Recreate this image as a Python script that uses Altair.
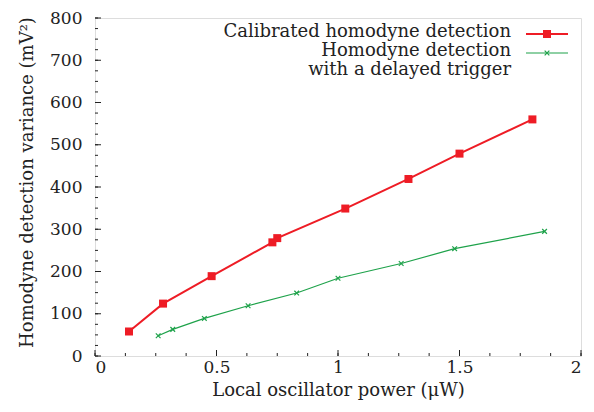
import altair as alt
import pandas as pd

# Calibrated homodyne detection
cal_x = [0.14, 0.28, 0.48, 0.73, 0.75, 1.03, 1.29, 1.50, 1.80]
cal_y = [58, 124, 189, 269, 279, 349, 419, 479, 560]
# Homodyne detection with a delayed trigger
del_x = [0.26, 0.32, 0.45, 0.63, 0.83, 1.00, 1.26, 1.48, 1.85]
del_y = [48, 63, 89, 119, 149, 184, 219, 254, 295]

x_major = [0, 0.5, 1, 1.5, 2]
x_minor = [i * 0.125 for i in range(17)]
y_major = [0, 100, 200, 300, 400, 500, 600, 700, 800]
y_minor = [i * 25 for i in range(33)]

RED = "#ee1c25"
GREEN = "#1ea24a"
FONT = "DejaVu Serif"
FS = 17
FT = 18
W, H = 486, 338
XMARK = "M-1,-1L1,1M-1,1L1,-1"

cal = pd.DataFrame({"x": cal_x, "y": cal_y})
dly = pd.DataFrame({"x": del_x, "y": del_y})

xs = alt.Scale(domain=[0, 2], nice=False)
ys = alt.Scale(domain=[0, 800], nice=False)

xaxis = alt.Axis(values=x_major, format="~g", grid=False, domain=False, ticks=False,
                 labelFont=FONT, labelFontSize=FS, labelColor="#222", labelPadding=3,
                 title="Local oscillator power (μW)", titleFont=FONT, titleFontSize=FT,
                 titleFontWeight="normal", titleColor="#222",
                 titleX=W / 2, titleY=34, titleBaseline="middle", titleAlign="center")
yaxis = alt.Axis(values=y_major, grid=False, domain=False, ticks=False,
                 labelFont=FONT, labelFontSize=FS, labelColor="#222", labelPadding=13,
                 title="Homodyne detection variance (mV²)", titleFont=FONT, titleFontSize=FT,
                 titleFontWeight="normal", titleColor="#222", titleAngle=270,
                 titleX=-68, titleY=164, titleBaseline="middle", titleAlign="center")

red_line = alt.Chart(cal).mark_line(color=RED, strokeWidth=2).encode(
    x=alt.X("x:Q", scale=xs, axis=xaxis), y=alt.Y("y:Q", scale=ys, axis=yaxis))
red_pts = alt.Chart(cal).mark_point(shape="square", filled=True, color=RED, size=64, opacity=1).encode(
    x=alt.X("x:Q", scale=xs), y=alt.Y("y:Q", scale=ys))
grn_line = alt.Chart(dly).mark_line(color=GREEN, strokeWidth=1.2).encode(
    x=alt.X("x:Q", scale=xs), y=alt.Y("y:Q", scale=ys))
grn_pts = alt.Chart(dly).mark_point(shape=XMARK, filled=False, color=GREEN, size=22,
                                    strokeWidth=1.2, opacity=1).encode(
    x=alt.X("x:Q", scale=xs), y=alt.Y("y:Q", scale=ys))

# inside ticks (gnuplot style)
xmaj = alt.Chart(pd.DataFrame({"x": x_major})).mark_rule(color="#222", strokeWidth=1).encode(
    x=alt.X("x:Q", scale=xs), y=alt.value(H), y2=alt.value(H - 6))
xmin = alt.Chart(pd.DataFrame({"x": x_minor})).mark_rule(color="#222", strokeWidth=1).encode(
    x=alt.X("x:Q", scale=xs), y=alt.value(H), y2=alt.value(H - 3))
ymaj = alt.Chart(pd.DataFrame({"y": y_major})).mark_rule(color="#222", strokeWidth=1).encode(
    y=alt.Y("y:Q", scale=ys), x=alt.value(0), x2=alt.value(6))
ymin = alt.Chart(pd.DataFrame({"y": y_minor})).mark_rule(color="#222", strokeWidth=1).encode(
    y=alt.Y("y:Q", scale=ys), x=alt.value(0), x2=alt.value(3))

# legend
leg_text = alt.Chart(pd.DataFrame({
    "t": ["Calibrated homodyne detection", "Homodyne detection", "with a delayed trigger"],
    "py": [14, 33, 52]})).mark_text(align="right", baseline="middle", font=FONT, fontSize=FT,
                                   color="#222").encode(
    text="t:N", x=alt.value(416), y=alt.Y("py:Q", scale=None))
leg_red = alt.Chart(pd.DataFrame({"a": [0]})).mark_rule(color=RED, strokeWidth=2).encode(
    x=alt.value(431), x2=alt.value(473), y=alt.value(16))
leg_red_pt = alt.Chart(pd.DataFrame({"a": [0]})).mark_point(shape="square", filled=True, color=RED,
                                                          size=64, opacity=1).encode(
    x=alt.value(452), y=alt.value(16))
leg_grn = alt.Chart(pd.DataFrame({"a": [0]})).mark_rule(color=GREEN, strokeWidth=1.2).encode(
    x=alt.value(431), x2=alt.value(473), y=alt.value(35))
leg_grn_pt = alt.Chart(pd.DataFrame({"a": [0]})).mark_point(shape=XMARK, filled=False, color=GREEN,
                                                          size=22, strokeWidth=1.2, opacity=1).encode(
    x=alt.value(452), y=alt.value(35))

chart = alt.layer(red_line, grn_line, red_pts, grn_pts, xmaj, xmin, ymaj, ymin,
                  leg_text, leg_red, leg_red_pt, leg_grn, leg_grn_pt).properties(
    width=W, height=H,
    autosize=alt.AutoSizeParams(type="none"),
    padding={"left": 87, "top": 10, "right": 5, "bottom": 44},
).configure_view(stroke="#222", strokeWidth=1.2).configure(background="white")

chart.save("out.html", embed_options={"renderer": "svg", "actions": False})
